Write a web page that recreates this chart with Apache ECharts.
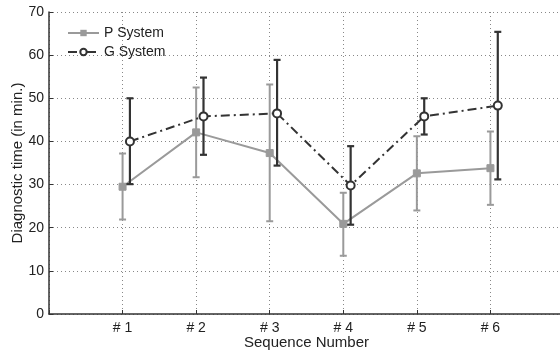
<!DOCTYPE html>
<html>
<head>
<meta charset="utf-8">
<title>Diagnostic time</title>
<script src="https://cdn.jsdelivr.net/npm/echarts@6/dist/echarts.min.js"></script>
<style>
  html, body { margin: 0; padding: 0; background: #fff; }
  #container { width: 560px; height: 354px; }
</style>
</head>
<body>
<div id="container"></div>
<script>
// data
var categories = ['# 1', '# 2', '# 3', '# 4', '# 5', '# 6'];
var yTicks = [0, 10, 20, 30, 40, 50, 60, 70];
var pMean = [29.5, 42.1, 37.3, 20.9, 32.6, 33.8];
var pLow  = [21.9, 31.7, 21.5, 13.5, 24.0, 25.3];
var pHigh = [37.2, 52.5, 53.2, 28.1, 41.2, 42.3];
var gMean = [40.0, 45.8, 46.5, 29.8, 45.8, 48.3];
var gLow  = [30.1, 36.9, 34.4, 20.7, 41.6, 31.2];
var gHigh = [50.0, 54.8, 58.9, 38.9, 50.0, 65.4];

var pColor = '#9a9a9a';
var gColor = '#333333';
var gShift = 0.1;

function points(mean, shift) {
    return mean.map(function (v, i) { return [i + 1 + shift, v]; });
}
function bars(low, high, shift) {
    return low.map(function (v, i) { return [i + 1 + shift, v, high[i]]; });
}
function errorBar(color, width, cap) {
    return function (params, api) {
        var lo = api.coord([api.value(0), api.value(1)]);
        var hi = api.coord([api.value(0), api.value(2)]);
        var style = { stroke: color, lineWidth: width };
        return {
            type: 'group',
            children: [
                { type: 'line', shape: { x1: lo[0], y1: lo[1], x2: hi[0], y2: hi[1] }, style: style },
                { type: 'line', shape: { x1: lo[0] - cap, y1: lo[1], x2: lo[0] + cap, y2: lo[1] }, style: style },
                { type: 'line', shape: { x1: hi[0] - cap, y1: hi[1], x2: hi[0] + cap, y2: hi[1] }, style: style }
            ]
        };
    };
}

var myChart = echarts.init(document.getElementById('container'));
var font = 'Liberation Sans, Arial, sans-serif';
var dots = { type: [1, 3], color: '#888', width: 1 };
var option = {
    animation: false,
    textStyle: { fontFamily: font },
    grid: { left: 49, top: 12, bottom: 40, width: 515, outerBoundsMode: 'none', containLabel: false },
    legend: {
        left: 62, top: 21, orient: 'vertical', itemGap: 5,
        itemWidth: 31, itemHeight: 8,
        textStyle: { fontSize: 14, color: '#222', fontFamily: font },
        data: ['P System', 'G System']
    },
    xAxis: {
        type: 'value', min: 0, max: 7, interval: 1,
        name: 'Sequence Number', nameLocation: 'middle', nameGap: 21, nameMoveOverlap: false,
        nameTextStyle: { fontSize: 15, color: '#222' },
        axisLine: { lineStyle: { color: '#333', width: 1.5 } },
        axisTick: { inside: true, length: 4, lineStyle: { color: '#333' } },
        axisLabel: {
            fontSize: 14, color: '#222', margin: 7,
            formatter: function (v) { return categories[v - 1] || ''; }
        },
        splitLine: { show: true, lineStyle: dots }
    },
    yAxis: {
        type: 'value', min: yTicks[0], max: yTicks[yTicks.length - 1], interval: 10,
        name: 'Diagnostic time (in min.)', nameLocation: 'middle', nameGap: 24, nameMoveOverlap: false,
        nameTextStyle: { fontSize: 15, color: '#222' },
        axisLine: { show: true, lineStyle: { color: '#333', width: 1.5 } },
        axisTick: { show: true, inside: true, length: 4, lineStyle: { color: '#333' } },
        axisLabel: { fontSize: 14, color: '#222', margin: 5 },
        splitLine: { show: true, lineStyle: dots }
    },
    series: [
        {
            name: 'P System', type: 'line', data: points(pMean, 0),
            lineStyle: { color: pColor, width: 2 },
            itemStyle: { color: pColor, borderColor: pColor },
            symbol: 'rect', symbolSize: 7, z: 3
        },
        {
            type: 'custom', renderItem: errorBar(pColor, 2, 3.5),
            data: bars(pLow, pHigh, 0), encode: { x: 0, y: [1, 2] }, z: 2
        },
        {
            type: 'custom', renderItem: errorBar(gColor, 2.2, 3.5),
            data: bars(gLow, gHigh, gShift), encode: { x: 0, y: [1, 2] }, z: 4
        },
        {
            name: 'G System', type: 'line', data: points(gMean, gShift),
            lineStyle: { color: gColor, width: 2, type: [9, 4, 2, 4] },
            itemStyle: { color: '#fff', borderColor: gColor, borderWidth: 2 },
            symbol: 'circle', symbolSize: 8, z: 5
        }
    ]
};
myChart.setOption(option, true);
</script>
</body>
</html>
